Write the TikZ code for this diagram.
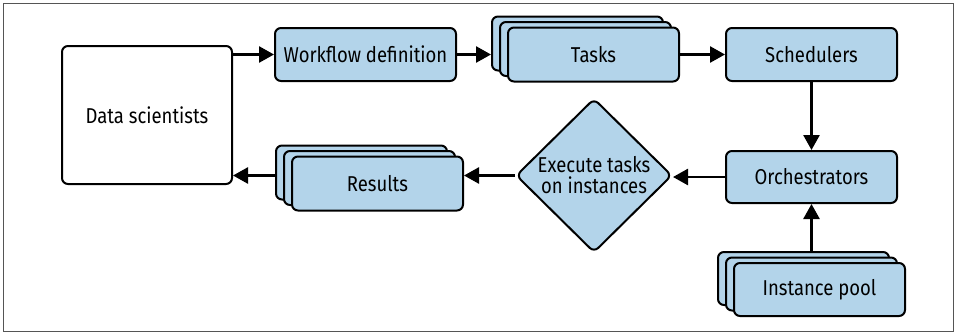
\documentclass[tikz,border=0pt]{standalone}
\usepackage{fontspec}
\setmainfont[FakeStretch=0.86]{Fira Sans}
\usetikzlibrary{arrows.meta,shapes.geometric}
\definecolor{boxblue}{HTML}{B3D4EA}
\definecolor{framegray}{HTML}{555555}
\tikzset{
  box/.style={draw=black, line width=2pt, rounded corners=6pt, fill=boxblue,
    minimum width=171pt, minimum height=54pt, inner sep=0pt, font=\fontsize{21.5}{24}\selectfont},
  dsbox/.style={box, fill=white, minimum width=170pt, minimum height=138pt},
  dia/.style={draw=black, line width=2pt, rounded corners=6pt, fill=boxblue, diamond,
    minimum width=156pt, minimum height=154pt, inner sep=0pt, align=center,
    font=\fontsize{21.5}{21}\selectfont},
  arr/.style={line width=2.6pt, -{Triangle[length=15pt,width=16pt]}},
}
\begin{document}
\begin{tikzpicture}[x=1pt,y=-1pt]
\useasboundingbox (0,0) rectangle (956,333);
\draw[framegray, line width=1pt] (3,3) rectangle (953,331);

\node[dsbox] (ds) at (147,115) {Data scientists};
\node[box, minimum width=181pt, minimum height=53pt] (wf) at (365.5,54.5) {Workflow definition};

\node[box] (tasks3) at (577.5,43.5) {};
\node[box] (tasks2) at (585.5,49) {};
\node[box] (tasks) at (593.5,54.5) {Tasks};

\node[box, minimum height=53pt] (sch) at (811.5,54.5) {Schedulers};
\node[box, minimum height=52pt] (orch) at (811.5,177) {Orchestrators};

\node[dia] (exec) at (594,175.5) {Execute tasks\\on instances};

\node[box] (res3) at (361.5,172.5) {};
\node[box] (res2) at (369.5,178) {};
\node[box] (res) at (377.5,183.5) {Results};

\node[box, minimum height=53pt] (pool3) at (803.5,278.5) {};
\node[box, minimum height=53pt] (pool2) at (811.5,284) {};
\node[box, minimum height=53pt] (pool) at (819.5,289.5) {Instance pool};

\draw[arr] (wf.west -| ds.east) -- (wf.west);
\draw[arr] (wf.east) -- (wf.east -| tasks3.west);
\draw[arr] (sch.west -| tasks.east) -- (sch.west);
\draw[arr] (sch.south) -- (orch.north);
\draw[arr] (orch.west) -- (exec.east |- orch.west);
\draw[arr] (exec.west) -- (exec.west -| res.east);
\draw[arr] (exec.west -| res3.west) -- (exec.west -| ds.east);
\draw[arr] (orch.south |- pool3.north) -- (orch.south);
\end{tikzpicture}
\end{document}
